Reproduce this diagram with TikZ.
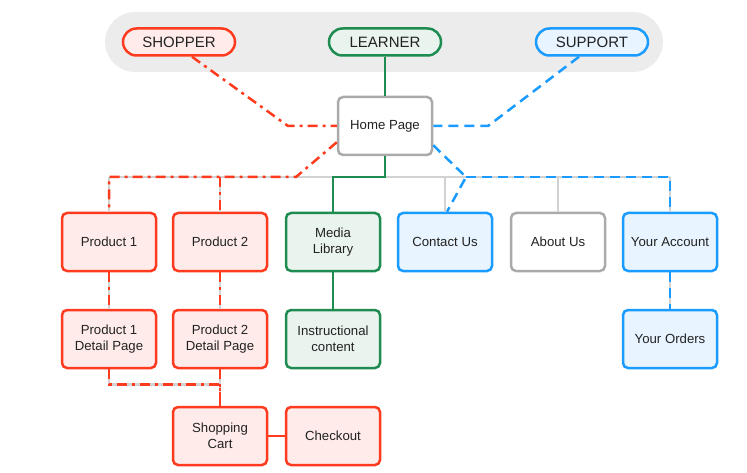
\documentclass[tikz,border=0pt]{standalone}
\usepackage{fontspec}
\setmainfont{Liberation Sans}
\definecolor{mapRed}{HTML}{FF3B1F}
\definecolor{mapRedFill}{HTML}{FFECEA}
\definecolor{mapGreen}{HTML}{1E8C50}
\definecolor{mapGreenFill}{HTML}{EAF4EF}
\definecolor{mapBlue}{HTML}{1A9BFF}
\definecolor{mapBlueFill}{HTML}{E8F4FF}
\definecolor{mapGray}{HTML}{AAAAAA}
\definecolor{mapLine}{HTML}{D2D2D2}
\definecolor{mapText}{HTML}{222222}
\begin{document}
\begin{tikzpicture}[x=1pt, y=-1pt,
    mapPill/.style={draw, line width=2.5pt, minimum width=112pt, minimum height=27pt, rounded corners=13.5pt, text=mapText, font=\fontsize{15}{17}\selectfont},
    mapBox/.style={draw, line width=2.5pt, minimum width=94pt, minimum height=58pt, rounded corners=5pt, align=center, text=mapText, font=\fontsize{13.2}{16}\selectfont},
    mapRedBox/.style={mapBox, draw=mapRed, fill=mapRedFill},
    mapGreenBox/.style={mapBox, draw=mapGreen, fill=mapGreenFill},
    mapBlueBox/.style={mapBox, draw=mapBlue, fill=mapBlueFill},
    mapGrayBox/.style={mapBox, draw=mapGray, fill=white},
    mapLink/.style={draw=mapLine, line width=2.5pt},
    mapRedLink/.style={draw=mapRed, line width=2.5pt, dash pattern=on 10pt off 5pt on 3pt off 5pt},
    mapGreenLink/.style={draw=mapGreen, line width=2.5pt},
    mapBlueLink/.style={draw=mapBlue, line width=2.5pt, dash pattern=on 10pt off 6pt}]
    \useasboundingbox (0,0) rectangle (747,473);

    % user band
    \node[fill=gray!15, rounded corners=30pt, minimum width=558pt, minimum height=60pt] (band) at (384,42) {};
    \node[mapPill, draw=mapRed, fill=mapRedFill] (shopper) at (179,42) {SHOPPER};
    \node[mapPill, draw=mapGreen, fill=mapGreenFill] (learner) at (385,42) {LEARNER};
    \node[mapPill, draw=mapBlue, fill=mapBlueFill] (support) at (592,42) {SUPPORT};

    % pages
    \node[mapGrayBox] (home) at (385,126) {Home Page};
    \node[mapRedBox] (prod1) at (109,242) {Product 1};
    \node[mapRedBox] (prod2) at (220,242) {Product 2};
    \node[mapGreenBox] (media) at (333,242) {Media\\Library};
    \node[mapBlueBox] (contact) at (445,242) {Contact Us};
    \node[mapGrayBox] (about) at (558,242) {About Us};
    \node[mapBlueBox] (account) at (670,242) {Your Account};
    \node[mapRedBox] (detail1) at (109,339) {Product 1\\Detail Page};
    \node[mapRedBox] (detail2) at (220,339) {Product 2\\Detail Page};
    \node[mapGreenBox] (instr) at (333,339) {Instructional\\content};
    \node[mapBlueBox] (orders) at (670,339) {Your Orders};
    \node[mapRedBox] (cart) at (220,436) {Shopping\\Cart};
    \node[mapRedBox] (checkout) at (333,436) {Checkout};

    \coordinate (bus) at (0,177);
    \coordinate (shopBend) at (288,126);
    \coordinate (shopJoin) at (296,177);
    \coordinate (supBend) at (488,126);
    \coordinate (supJoin) at (466,177);

    % site tree
    \draw[mapLink] (home.south) -- (home.south |- bus);
    \draw[mapLink] (prod1.north |- bus) -- (account.north |- bus);
    \foreach \page in {prod1, prod2, media, contact, about, account}
        \draw[mapLink] (\page.north |- bus) -- (\page.north);
    \draw[mapLink] (prod1) -- (detail1);
    \draw[mapLink] (prod2) -- (detail2);
    \draw[mapLink] (media) -- (instr);
    \draw[mapLink] (account) -- (orders);
    \draw[mapLink] (detail1.south) -- ++(0,15) -| (cart.north);
    \draw[mapLink] (detail2.south) -- (cart.north);
    \draw[mapLink] (cart) -- (checkout);

    % shopper path
    \draw[mapRedLink] ([xshift=13pt]shopper.south) -- (shopBend) -- (home.west);
    \draw[mapRedLink] ([yshift=14pt]home.south west) -- (shopJoin) -- (prod1.north |- bus) -- (prod1.north);
    \draw[mapRedLink] (prod2.north |- bus) -- (prod2.north);
    \draw[mapRedLink] (prod1) -- (detail1);
    \draw[mapRedLink] (prod2) -- (detail2);
    \draw[mapRedLink] (detail1.south) -- ++(0,15) -| (cart.north);
    \draw[mapRedLink] (detail2.south) -- (cart.north);
    \draw[mapRed, line width=2.5pt] (cart) -- (checkout);

    % learner path
    \draw[mapGreenLink] (learner) -- (home);
    \draw[mapGreenLink] (home.south) -- (home.south |- bus) -| (media.north);
    \draw[mapGreenLink] (media) -- (instr);

    % support path
    \draw[mapBlueLink] ([xshift=-13pt]support.south) -- (supBend) -- (home.east);
    \draw[mapBlueLink] ([yshift=11pt]home.south east) -- (supJoin) -- ([xshift=2pt]contact.north);
    \draw[mapBlueLink] (supJoin) -- (account.north |- bus) -- (account.north);
    \draw[mapBlueLink] (account) -- (orders);
\end{tikzpicture}
\end{document}
